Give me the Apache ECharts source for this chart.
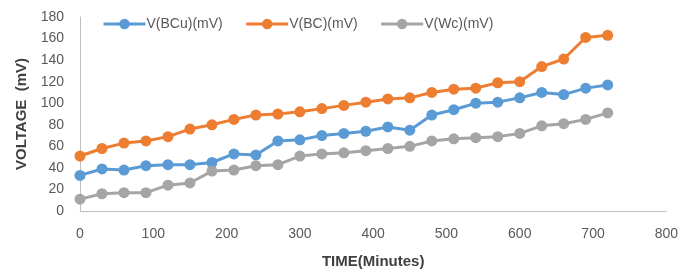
<!DOCTYPE html>
<html>
<head>
<meta charset="utf-8">
<script src="https://cdn.jsdelivr.net/npm/echarts@6/dist/echarts.min.js"></script>
<style>
  html, body { margin: 0; padding: 0; background: #fff; }
  #main { width: 681px; height: 274px; }
</style>
</head>
<body>
<div id="main"></div>
<script>
// time in minutes
const minutes = [0, 30, 60, 90, 120, 150, 180, 210, 240, 270, 300, 330, 360,
  390, 420, 450, 480, 510, 540, 570, 600, 630, 660, 690, 720];
const vBCu = [33, 39, 38, 42, 43, 43, 45, 53, 52, 65, 66, 70, 72,
  74, 78, 75, 89, 94, 100, 101, 105, 110, 108, 114, 117];
const vBC = [51, 58, 63, 65, 69, 76, 80, 85, 89, 90, 92, 95, 98,
  101, 104, 105, 110, 113, 114, 119, 120, 134, 141, 161, 163];
const vWc = [11, 16, 17, 17, 24, 26, 37, 38, 42, 43, 51, 53, 54,
  56, 58, 60, 65, 67, 68, 69, 72, 79, 81, 85, 91];

const seriesNames = ["V(BCu)(mV)", "V(BC)(mV)", "V(Wc)(mV)"];
const colors = ["#5B9BD5", "#ED7D31", "#A5A5A5"];

function pairs(ys) {
  return minutes.map(function (m, i) { return [m, ys[i]]; });
}

var myChart = echarts.init(document.getElementById("main"));
const font = "'Liberation Sans', Arial, sans-serif";

const option = {
  animation: false,
  color: colors,
  textStyle: { fontFamily: font },
  legend: {
    left: 97,
    top: 12,
    itemWidth: 42,
    itemHeight: 13,
    itemGap: 22,
    lineStyle: { width: 3 },
    textStyle: { color: "#595959", fontSize: 14, fontFamily: font, padding: [0, 0, 0, -4] },
    data: seriesNames,
  },
  grid: {
    left: 80,
    right: 14,
    top: 17,
    bottom: 59,
  },
  xAxis: {
    type: "value",
    min: 0,
    max: 800,
    interval: 100,
    name: "TIME(Minutes)",
    nameLocation: "middle",
    nameGap: 43,
    nameTextStyle: { color: "#404040", fontSize: 15, fontWeight: "bold", fontFamily: font },
    axisLine: { lineStyle: { color: "#BFBFBF", width: 1 } },
    axisTick: { show: false },
    axisLabel: { color: "#595959", fontSize: 14, margin: 16 },
    splitLine: { show: false },
  },
  yAxis: {
    type: "value",
    min: 0,
    max: 180,
    interval: 20,
    name: "VOLTAGE  (mV)",
    nameLocation: "middle",
    nameGap: 49,
    nameTextStyle: { color: "#404040", fontSize: 15, fontWeight: "bold", fontFamily: font },
    axisLine: { show: true, lineStyle: { color: "#BFBFBF", width: 1 } },
    axisTick: { show: false },
    axisLabel: { color: "#595959", fontSize: 14, margin: 16 },
    splitLine: { show: false },
  },
  series: [vBCu, vBC, vWc].map(function (ys, i) {
    return {
      name: seriesNames[i],
      type: "line",
      data: pairs(ys),
      symbol: "circle",
      symbolSize: 11,
      lineStyle: { width: 3, color: colors[i] },
      itemStyle: { color: colors[i] },
    };
  }),
};

myChart.setOption(option);
</script>
</body>
</html>
